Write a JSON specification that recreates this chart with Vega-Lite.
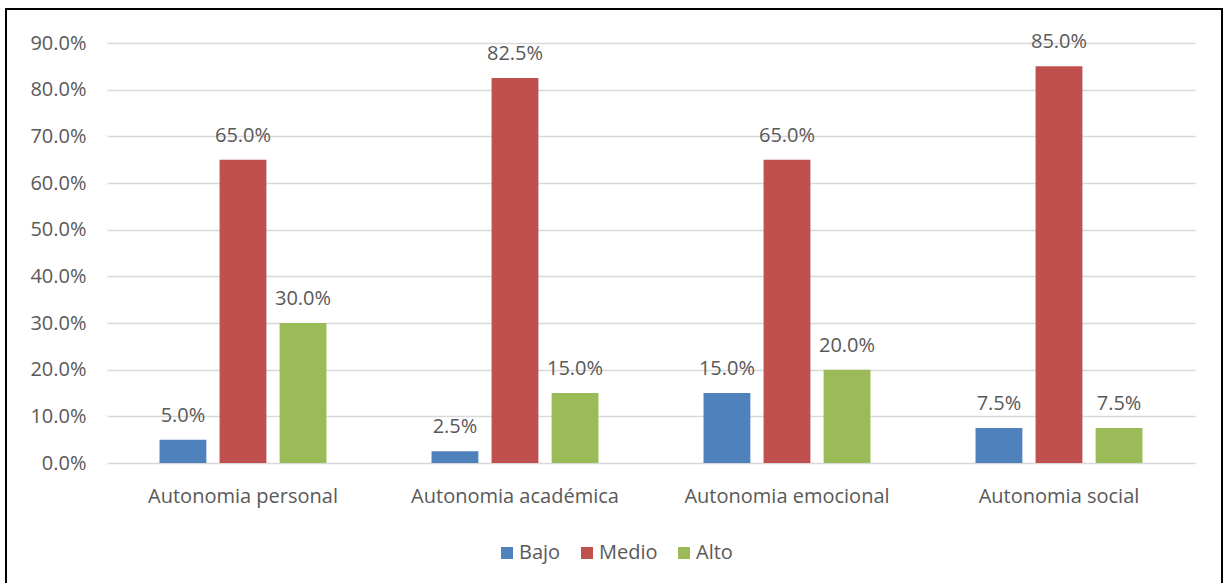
{
  "$schema": "https://vega.github.io/schema/vega-lite/v6.json",
  "width": 1216,
  "height": 577,
  "autosize": {"type": "none"},
  "padding": {"left": 6, "top": 9, "right": 3, "bottom": -3},
  "background": "#ffffff",
  "config": {
    "view": {"stroke": "#000000", "strokeWidth": 2},
    "font": "Open Sans"
  },
  "data": {
    "values": [
      {"categoria": "Autonomia personal", "nivel": "Bajo", "valor": 0.05},
      {"categoria": "Autonomia personal", "nivel": "Medio", "valor": 0.65},
      {"categoria": "Autonomia personal", "nivel": "Alto", "valor": 0.30},
      {"categoria": "Autonomia académica", "nivel": "Bajo", "valor": 0.025},
      {"categoria": "Autonomia académica", "nivel": "Medio", "valor": 0.825},
      {"categoria": "Autonomia académica", "nivel": "Alto", "valor": 0.15},
      {"categoria": "Autonomia emocional", "nivel": "Bajo", "valor": 0.15},
      {"categoria": "Autonomia emocional", "nivel": "Medio", "valor": 0.65},
      {"categoria": "Autonomia emocional", "nivel": "Alto", "valor": 0.20},
      {"categoria": "Autonomia social", "nivel": "Bajo", "valor": 0.075},
      {"categoria": "Autonomia social", "nivel": "Medio", "valor": 0.85},
      {"categoria": "Autonomia social", "nivel": "Alto", "valor": 0.075}
    ]
  },
  "encoding": {
    "x": {
      "field": "categoria",
      "type": "nominal",
      "sort": ["Autonomia personal", "Autonomia académica", "Autonomia emocional", "Autonomia social"],
      "scale": {"range": [101, 1189], "paddingInner": 0, "paddingOuter": 0},
      "axis": {
        "title": null,
        "labelAngle": 0,
        "domain": false,
        "ticks": false,
        "grid": false,
        "offset": -123,
        "labelPadding": 23,
        "labelFontSize": 20,
        "labelLimit": 0,
        "labelColor": "#595959",
        "labelFont": "Open Sans"
      }
    },
    "xOffset": {
      "field": "nivel",
      "type": "nominal",
      "sort": ["Bajo", "Medio", "Alto"],
      "scale": {"paddingInner": 0.22, "paddingOuter": 0.875}
    },
    "y": {
      "field": "valor",
      "type": "quantitative",
      "scale": {"domain": [0, 0.9], "range": [454, 34], "nice": false, "zero": true},
      "axis": {
        "title": null,
        "values": [0, 0.1, 0.2, 0.3, 0.4, 0.5, 0.6, 0.7, 0.8, 0.9],
        "format": ".1%",
        "domain": false,
        "ticks": false,
        "offset": -101,
        "labelPadding": 21,
        "labelFontSize": 20,
        "labelColor": "#595959",
        "labelFont": "Open Sans",
        "gridColor": "#d9d9d9",
        "gridWidth": 1.3
      }
    }
  },
  "layer": [
    {
      "mark": {"type": "bar"},
      "encoding": {
        "color": {
          "field": "nivel",
          "type": "nominal",
          "sort": ["Bajo", "Medio", "Alto"],
          "scale": {"domain": ["Bajo", "Medio", "Alto"], "range": ["#4F81BD", "#C0504D", "#9BBB59"]},
          "legend": {
            "title": null,
            "orient": "none",
            "legendX": 491,
            "legendY": 534,
            "direction": "horizontal",
            "symbolType": "square",
            "symbolSize": 144,
            "symbolStrokeWidth": 0,
            "symbolOpacity": 1,
            "labelFontSize": 20,
            "labelColor": "#595959",
            "labelFont": "Open Sans",
            "labelOffset": 2,
            "columnPadding": 16
          }
        }
      }
    },
    {
      "mark": {"type": "text", "baseline": "alphabetic", "align": "center", "dy": -18, "fontSize": 20, "color": "#595959", "font": "Open Sans"},
      "encoding": {
        "text": {"field": "valor", "type": "quantitative", "format": ".1%"}
      }
    }
  ]
}
